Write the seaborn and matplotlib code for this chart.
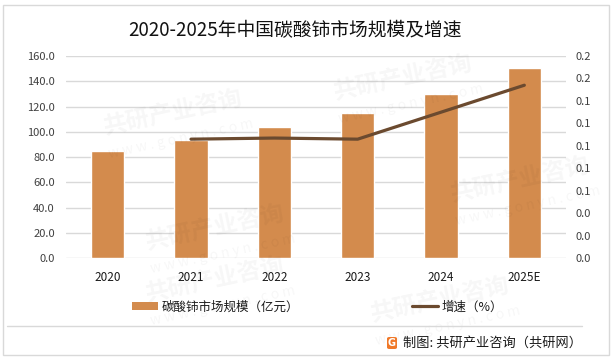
import numpy as np
import pandas as pd
import matplotlib
matplotlib.use("Agg")
import matplotlib.pyplot as plt
import seaborn as sns
from matplotlib.patches import Rectangle, FancyBboxPatch
from matplotlib.lines import Line2D

# ---------------- data ----------------
years = ["2020", "2021", "2022", "2023", "2024", "2025E"]
market_size = [85.1, 93.5, 103.8, 114.9, 129.9, 150.7]
growth_years = ["2021", "2022", "2023", "2024", "2025E"]
growth_rate = [0.106, 0.107, 0.106, 0.130, 0.154]
left_ticks = [0, 20, 40, 60, 80, 100, 120, 140, 160]
right_ticks = [0.00, 0.02, 0.04, 0.06, 0.08, 0.10, 0.12, 0.14, 0.16, 0.18]
title = "2020-2025年中国碳酸铈市场规模及增速"
bar_label = "碳酸铈市场规模（亿元）"
line_label = "增速（%）"
footer = "制图: 共研产业咨询（共研网）"

bar_color = "#D38B4D"
line_color = "#6B4A2F"
grid_color = "#D9D9D9"
tick_color = "#404040"

sns.set_theme(style="white")
plt.rcParams["font.family"] = ["Noto Sans CJK SC", "DejaVu Sans"]

W, H = 616, 360
fig = plt.figure(figsize=(W / 100, H / 100), dpi=100)
fig.patch.set_facecolor("white")

def fx(px):
    return px / W

def fy(py):
    return 1 - py / H

# ---------------- watermarks (faint) ----------------
wm_centers = [(173, 113), (403, 78), (215, 228), (440, 300), (215, 280), (520, 180)]
for cx, cy in wm_centers:
    fig.text(fx(cx), fy(cy), "共研产业咨询", fontsize=17, fontweight="bold",
             color="#000000", alpha=0.035, rotation=12, ha="center", va="center", zorder=0)
    fig.text(fx(cx + 8), fy(cy + 26), "w w w . g o n y n . c o m", fontsize=10,
             color="#000000", alpha=0.035, rotation=12, ha="center", va="center", zorder=0)

# ---------------- main axes ----------------
ax = fig.add_axes([fx(66), fy(258.3), fx(566) - fx(66), fy(56) - fy(258.3)])
ax.patch.set_alpha(0)
df = pd.DataFrame({"year": years, "size": market_size})
sns.barplot(data=df, x="year", y="size", order=years, color=bar_color,
            saturation=1, width=0.4, ax=ax, zorder=3)
ax.set_xlim(-0.5, len(years) - 0.5)
ax.set_ylim(0, 160)
ax.set_yticks(left_ticks)
ax.set_yticklabels([f"{v:.1f}" for v in left_ticks])
ax.yaxis.grid(True, color=grid_color, lw=1)
ax.xaxis.grid(False)
ax.set_axisbelow(True)
for s in ax.spines.values():
    s.set_visible(False)
ax.set_xlabel("")
ax.set_ylabel("")
ax.tick_params(axis="y", length=0, pad=8, labelsize=8, labelcolor=tick_color)
ax.tick_params(axis="x", length=0, pad=9, labelsize=8.5, labelcolor="#1A1A1A")

# ---------------- secondary axis ----------------
ax2 = ax.twinx()
growth_x = [years.index(y) for y in growth_years]
sns.lineplot(x=growth_x, y=growth_rate, ax=ax2, color=line_color, lw=2.3, zorder=4)
ax2.set_xlim(-0.5, len(years) - 0.5)
ax2.set_ylim(0, 0.18)
ax2.set_yticks(right_ticks)
ax2.set_yticklabels([f"{v:.1f}" for v in right_ticks])
ax2.grid(False)
for s in ax2.spines.values():
    s.set_visible(False)
ax2.set_ylabel("")
ax2.tick_params(axis="y", length=0, pad=7, labelsize=8, labelcolor=tick_color)

# ---------------- title ----------------
fig.text(fx(294.5), fy(31), title, ha="center", va="center", fontsize=13.5, color="#111111")

# ---------------- legend ----------------
handles = [Rectangle((0, 0), 1, 1, facecolor=bar_color, edgecolor="none"),
           Line2D([0], [0], color=line_color, lw=2.3)]
fig.legend(handles, [bar_label, line_label], loc="center",
           bbox_to_anchor=(fx(317.5), fy(307)), ncol=2, frameon=False,
           fontsize=9, handlelength=2.1, handleheight=0.56, handletextpad=0.3,
           columnspacing=9, labelcolor="#1A1A1A")

# ---------------- frame, separator, footer ----------------
fig.add_artist(Rectangle((fx(3), fy(355)), fx(609) - fx(3), fy(5) - fy(355),
                         transform=fig.transFigure, fill=False, ec=grid_color, lw=1))
fig.add_artist(Line2D([fx(7), fx(582)], [fy(326), fy(326)], transform=fig.transFigure,
                      color=grid_color, lw=1))
fig.add_artist(FancyBboxPatch((fx(387), fy(349)), fx(397) - fx(387), fy(337) - fy(349),
                              boxstyle="round,pad=0.0,rounding_size=0.004",
                              transform=fig.transFigure, fc="#F07828", ec="none"))
fig.text(fx(392), fy(343), "G", ha="center", va="center", fontsize=7, fontweight="bold",
         color="white", family="DejaVu Sans")
fig.text(fx(403), fy(343), footer, ha="left", va="center", fontsize=9.5, color="#1A1A1A")

fig.savefig("out.png", dpi=100)
